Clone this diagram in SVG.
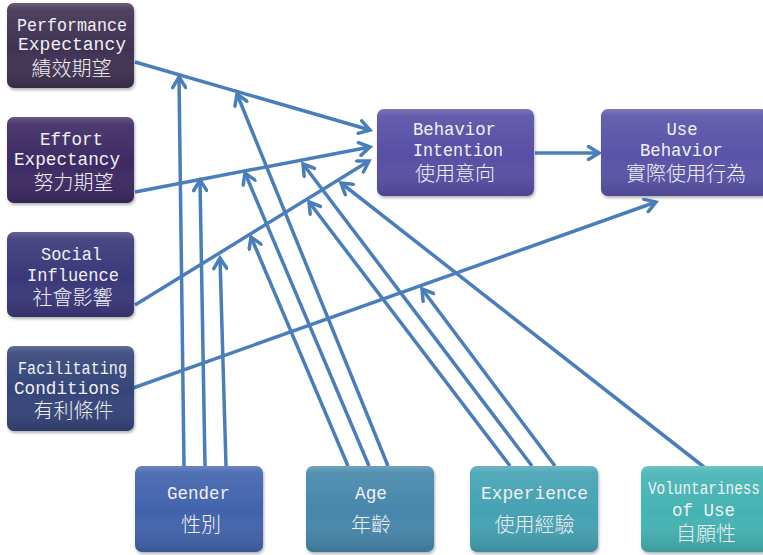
<svg xmlns="http://www.w3.org/2000/svg" width="763" height="555" viewBox="0 0 763 555">
  <defs>
    <style>
      .box { stroke: none; filter: url(#shadow); }
      .shine { fill: url(#bevel); pointer-events: none; }
      .lat { font-family: "Liberation Mono", "DejaVu Sans Mono", monospace; font-size: 18px; fill: #f0f0f4; text-anchor: middle; }
      .cjk { font-family: "Noto Sans CJK TC", "Noto Sans CJK SC", sans-serif; font-size: 20px; font-weight: 300; fill: #f0f0f4; text-anchor: middle; }
      .link { fill: none; stroke: #4a7ebb; stroke-width: 3.5; marker-end: url(#chev); }
    </style>
    <linearGradient id="bevel" x1="0" y1="0" x2="0" y2="1">
      <stop offset="0" stop-color="#ffffff" stop-opacity="0.22"/>
      <stop offset="0.08" stop-color="#ffffff" stop-opacity="0.08"/>
      <stop offset="0.55" stop-color="#ffffff" stop-opacity="0"/>
      <stop offset="1" stop-color="#000000" stop-opacity="0.14"/>
    </linearGradient>
    <filter id="shadow" x="-10%" y="-10%" width="125%" height="130%">
      <feDropShadow dx="1" dy="2" stdDeviation="1.8" flood-color="#000000" flood-opacity="0.3"/>
    </filter>
    <marker id="chev" markerUnits="userSpaceOnUse" viewBox="0 0 16 16" markerWidth="16" markerHeight="16" refX="13" refY="8" orient="auto">
      <path d="M2.5,1.5 L13,8 L2.5,14.5" fill="none" stroke="#4a7ebb" stroke-width="3.5" stroke-linecap="round" stroke-linejoin="miter"/>
    </marker>
  </defs>

  <rect width="763" height="555" fill="#ffffff"/>

  <!-- connectors: main paths and moderating effects -->
  <g id="connectors">
    <line class="link" x1="135" y1="62" x2="370" y2="130"/>
    <line class="link" x1="135" y1="192" x2="370" y2="147"/>
    <line class="link" x1="135" y1="305" x2="369" y2="161"/>
    <line class="link" x1="133" y1="388" x2="656" y2="202"/>
    <line class="link" x1="535" y1="153" x2="599" y2="153"/>

    <!-- gender -->
    <line class="link" x1="184" y1="466" x2="179" y2="77"/>
    <line class="link" x1="205" y1="466" x2="200" y2="180"/>
    <line class="link" x1="226" y1="466" x2="220" y2="258"/>
    <!-- age -->
    <line class="link" x1="388" y1="466" x2="237" y2="94"/>
    <line class="link" x1="369" y1="466" x2="245" y2="173"/>
    <line class="link" x1="348" y1="466" x2="251" y2="237"/>
    <!-- experience -->
    <line class="link" x1="532" y1="466" x2="303" y2="164"/>
    <line class="link" x1="510" y1="466" x2="309" y2="202"/>
    <line class="link" x1="555" y1="466" x2="422" y2="289"/>
    <!-- voluntariness -->
    <line class="link" x1="704" y1="467" x2="341" y2="183"/>
  </g>

  <g id="performance-expectancy">
    <rect class="box" x="7" y="3" width="127" height="85" rx="7" fill="#403152"/>
    <rect class="shine" x="7" y="3" width="127" height="85" rx="7"/>
    <text class="lat" x="72" y="31" textLength="110" lengthAdjust="spacingAndGlyphs">Performance</text>
    <text class="lat" x="72" y="50" textLength="108" lengthAdjust="spacingAndGlyphs">Expectancy</text>
    <text class="cjk" x="71.5" y="76">績效期望</text>
  </g>

  <g id="effort-expectancy">
    <rect class="box" x="7" y="117" width="127" height="86" rx="7" fill="#3d2c63"/>
    <rect class="shine" x="7" y="117" width="127" height="86" rx="7"/>
    <text class="lat" x="71.5" y="145" textLength="63" lengthAdjust="spacingAndGlyphs">Effort</text>
    <text class="lat" x="67" y="165" textLength="106" lengthAdjust="spacingAndGlyphs">Expectancy</text>
    <text class="cjk" x="73.5" y="190">努力期望</text>
  </g>

  <g id="social-influence">
    <rect class="box" x="7" y="232" width="127" height="85" rx="7" fill="#3a377a"/>
    <rect class="shine" x="7" y="232" width="127" height="85" rx="7"/>
    <text class="lat" x="71.5" y="260" textLength="61" lengthAdjust="spacingAndGlyphs">Social</text>
    <text class="lat" x="73" y="281" textLength="92" lengthAdjust="spacingAndGlyphs">Influence</text>
    <text class="cjk" x="72.5" y="305">社會影響</text>
  </g>

  <g id="facilitating-conditions">
    <rect class="box" x="7" y="346" width="127" height="85" rx="7" fill="#36447a"/>
    <rect class="shine" x="7" y="346" width="127" height="85" rx="7"/>
    <text class="lat" x="72.5" y="374" textLength="109" lengthAdjust="spacingAndGlyphs">Facilitating</text>
    <text class="lat" x="67" y="394" textLength="106" lengthAdjust="spacingAndGlyphs">Conditions</text>
    <text class="cjk" x="73.5" y="418">有利條件</text>
  </g>

  <g id="behavior-intention">
    <rect class="box" x="377" y="109" width="157" height="87" rx="7" fill="#5950a6"/>
    <rect class="shine" x="377" y="109" width="157" height="87" rx="7"/>
    <text class="lat" x="454.5" y="135" textLength="83" lengthAdjust="spacingAndGlyphs">Behavior</text>
    <text class="lat" x="458" y="156" textLength="90" lengthAdjust="spacingAndGlyphs">Intention</text>
    <text class="cjk" x="455" y="181">使用意向</text>
  </g>

  <g id="use-behavior">
    <rect class="box" x="601" y="109" width="167" height="87" rx="7" fill="#5a52a8"/>
    <rect class="shine" x="601" y="109" width="167" height="87" rx="7"/>
    <text class="lat" x="682" y="135" textLength="31" lengthAdjust="spacingAndGlyphs">Use</text>
    <text class="lat" x="681.5" y="156" textLength="83" lengthAdjust="spacingAndGlyphs">Behavior</text>
    <text class="cjk" x="686" y="181">實際使用行為</text>
  </g>

  <g id="gender">
    <rect class="box" x="135" y="466" width="128" height="86" rx="7" fill="#4264ad"/>
    <rect class="shine" x="135" y="466" width="128" height="86" rx="7"/>
    <text class="lat" x="198.5" y="499" textLength="63" lengthAdjust="spacingAndGlyphs">Gender</text>
    <text class="cjk" x="201" y="532">性別</text>
  </g>

  <g id="age">
    <rect class="box" x="306" y="466" width="128" height="86" rx="7" fill="#4787ab"/>
    <rect class="shine" x="306" y="466" width="128" height="86" rx="7"/>
    <text class="lat" x="371" y="499" textLength="32" lengthAdjust="spacingAndGlyphs">Age</text>
    <text class="cjk" x="371" y="532">年齡</text>
  </g>

  <g id="experience">
    <rect class="box" x="470" y="466" width="128" height="86" rx="7" fill="#44a2b3"/>
    <rect class="shine" x="470" y="466" width="128" height="86" rx="7"/>
    <text class="lat" x="534.5" y="499" textLength="107" lengthAdjust="spacingAndGlyphs">Experience</text>
    <text class="cjk" x="534.5" y="532">使用經驗</text>
  </g>

  <g id="voluntariness">
    <rect class="box" x="641" y="466" width="128" height="86" rx="7" fill="#45b3b3"/>
    <rect class="shine" x="641" y="466" width="128" height="86" rx="7"/>
    <text class="lat" x="704" y="494" textLength="112" lengthAdjust="spacingAndGlyphs">Voluntariness</text>
    <text class="lat" x="703.5" y="516" textLength="63" lengthAdjust="spacingAndGlyphs">of Use</text>
    <text class="cjk" x="706" y="541">自願性</text>
  </g>
</svg>
